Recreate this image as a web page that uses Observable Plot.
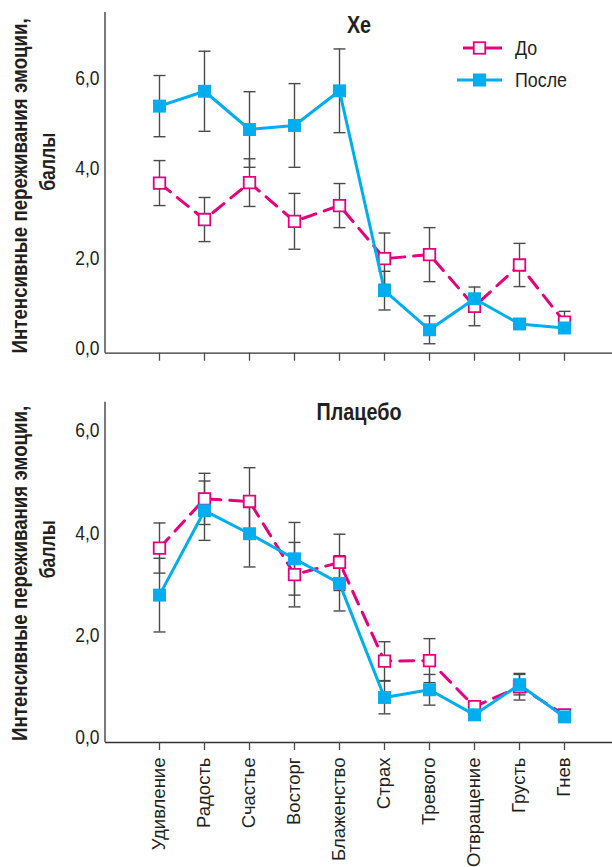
<!DOCTYPE html>
<html><head><meta charset="utf-8">
<script src="https://cdn.jsdelivr.net/npm/d3@7"></script>
<script src="https://cdn.jsdelivr.net/npm/@observablehq/plot@0.6"></script>
<style>body{margin:0;background:#fff} #chart svg{display:block}</style>
</head><body><div id="chart"></div>
<script>
const categories = ["Удивление","Радость","Счастье","Восторг","Блаженство","Страх","Тревого","Отвращение","Грусть","Гнев"];
const seriesNames = ["До", "После"];
const yTicks = [0, 2, 4, 6];
const yTitleLines = ["Интенсивные переживания эмоции,", "баллы"];
const panelTitles = ["Xe", "Плацебо"];

const xeBefore     = [3.78, 2.97, 3.79, 2.93, 3.28, 2.10, 2.19, 1.04, 1.96, 0.69];
const xeBeforeErr  = [0.50, 0.49, 0.53, 0.62, 0.49, 0.57, 0.60, 0.43, 0.48, 0.24];
const xeAfter      = [5.49, 5.82, 4.97, 5.06, 5.83, 1.39, 0.52, 1.21, 0.65, 0.56];
const xeAfterErr   = [0.68, 0.89, 0.84, 0.93, 0.93, 0.43, 0.31, 0.10, 0.08, 0.08];

const plBefore     = [3.80, 4.76, 4.71, 3.28, 3.52, 1.59, 1.60, 0.70, 1.09, 0.54];
const plBeforeErr  = [0.49, 0.50, 0.66, 0.63, 0.55, 0.38, 0.43, 0.10, 0.26, 0.05];
const plAfter      = [2.88, 4.53, 4.08, 3.59, 3.11, 0.88, 1.03, 0.54, 1.13, 0.50];
const plAfterErr   = [0.72, 0.58, 0.65, 0.71, 0.54, 0.32, 0.30, 0.08, 0.20, 0.05];

const PINK = "#e6007e", BLUE = "#00aeef", GRAY = "#4a4a4a", INK = "#231f20";
const FONT = "'Liberation Sans', Arial, sans-serif";
const fmt = d => d.toFixed(1).replace(".", ",");

function rows(vals, errs) {
  return categories.map((c, i) => ({cat: c, v: vals[i], lo: vals[i] - errs[i], hi: vals[i] + errs[i]}));
}
const capSymbol = {draw(ctx) { ctx.moveTo(-6, 0); ctx.lineTo(6, 0); }};

const yAxisLine = (index, scales, values, dims) => {
  const l = d3.create("svg:line")
    .attr("x1", dims.marginLeft).attr("x2", dims.marginLeft)
    .attr("y1", dims.marginTop).attr("y2", dims.height - dims.marginBottom)
    .attr("stroke", "#333").attr("stroke-width", 1.3);
  return l.node();
};

const legendMark = () => {
  const g = d3.create("svg:g").attr("aria-label", "legend");
  const items = [
    {name: seriesNames[0], y: 48, x1: 463, color: PINK, hollow: true},
    {name: seriesNames[1], y: 80, x1: 457, color: BLUE, hollow: false}
  ];
  for (const it of items) {
    g.append("line").attr("x1", it.x1).attr("x2", 502).attr("y1", it.y).attr("y2", it.y)
      .attr("stroke", it.color).attr("stroke-width", 3);
    if (it.hollow) {
      g.append("rect").attr("x", 479.5 - 5.75).attr("y", it.y - 5.75).attr("width", 11.5).attr("height", 11.5)
        .attr("fill", "white").attr("stroke", it.color).attr("stroke-width", 1.8);
    } else {
      g.append("rect").attr("x", 479.5 - 6.5).attr("y", it.y - 6.5).attr("width", 13).attr("height", 13)
        .attr("fill", it.color);
    }
    g.append("text").attr("x", 515).attr("y", it.y).attr("dy", "0.35em").attr("text-anchor", "start")
      .attr("font-size", 21).attr("fill", INK).text(it.name);
  }
  return g.node();
};

function panel({title, before, beforeErr, after, afterErr, height, marginTop, marginBottom, yMax, showLabels, legend, titleDy, labelDy}) {
  const b = rows(before, beforeErr), a = rows(after, afterErr);
  const caps = [...b, ...a].flatMap(d => [{cat: d.cat, y: d.lo}, {cat: d.cat, y: d.hi}]);
  const marks = [
    yAxisLine,
    Plot.ruleY([0], {stroke: "#333", strokeWidth: 1.3}),
    Plot.axisY({ticks: yTicks, tickSize: 0, tickPadding: 6, label: null, dy: -5,
      tickFormat: fmt, fontSize: 21, fill: INK}),
    Plot.axisX({tickSize: 8, stroke: GRAY, strokeWidth: 1.3, label: null, tickRotate: -90, tickPadding: 7,
      fontSize: 18.5, fill: INK, tickFormat: showLabels ? (d => d) : (() => "")}),
    Plot.ruleX([...b, ...a], {x: "cat", y1: "lo", y2: "hi", stroke: GRAY, strokeWidth: 1.4}),
    Plot.dot(caps, {x: "cat", y: "y", symbol: capSymbol, stroke: GRAY, strokeWidth: 1.4, fill: "none"}),
    Plot.line(b, {x: "cat", y: "v", stroke: PINK, strokeWidth: 3, strokeDasharray: "14,9"}),
    Plot.dot(b, {x: "cat", y: "v", symbol: "square", r: 6.5, fill: "white", stroke: PINK, strokeWidth: 1.8}),
    Plot.line(a, {x: "cat", y: "v", stroke: BLUE, strokeWidth: 3}),
    Plot.dot(a, {x: "cat", y: "v", symbol: "square", r: 7.3, fill: BLUE}),
    Plot.text([title], {frameAnchor: "top", lineAnchor: "middle", dy: titleDy, fontWeight: "bold", fontSize: 23, fill: INK}),
    Plot.text([yTitleLines[0]], {frameAnchor: "left", textAnchor: "middle", lineAnchor: "middle", rotate: -90,
      dx: -86, dy: labelDy, fontWeight: "bold", fontSize: 22, fill: INK}),
    Plot.text([yTitleLines[1]], {frameAnchor: "left", textAnchor: "middle", lineAnchor: "middle", rotate: -90,
      dx: -58, dy: labelDy - 24, fontWeight: "bold", fontSize: 22, fill: INK})
  ];
  if (legend) marks.push(legendMark);
  return Plot.plot({
    width: 612, height, marginLeft: 105, marginRight: 0, marginTop, marginBottom,
    style: {fontFamily: FONT, background: "white", overflow: "visible"},
    x: {type: "point", domain: categories, range: [155, 568], padding: 0},
    y: {domain: [0, yMax]},
    marks
  });
}

// squeeze glyphs horizontally to mimic the condensed typeface of the original
const squeeze = new Map([
  ...yTicks.map(t => [fmt(t), 0.83]),
  ...panelTitles.map(t => [t, 0.86]),
  [yTitleLines[0], 0.85],
  [yTitleLines[1], 0.8],
  ...seriesNames.map(t => [t, 0.85])
]);
function condense(svg) {
  svg.querySelectorAll("text").forEach(t => {
    if (t.querySelector("tspan")) return;
    const f = squeeze.get(t.textContent.trim());
    if (!f) return;
    const L = t.getComputedTextLength();
    if (L > 0) { t.setAttribute("textLength", (L * f).toFixed(2)); t.setAttribute("lengthAdjust", "spacingAndGlyphs"); }
  });
}

const chartEl = document.getElementById("chart");
const topPanel = panel({title: panelTitles[0], before: xeBefore, beforeErr: xeBeforeErr, after: xeAfter, afterErr: xeAfterErr,
  height: 375, marginTop: 12, marginBottom: 22.3, yMax: 7.57, showLabels: false, legend: true, titleDy: 13, labelDy: 3});
const bottomPanel = panel({title: panelTitles[1], before: plBefore, beforeErr: plBeforeErr, after: plAfter, afterErr: plAfterErr,
  height: 492, marginTop: 26.7, marginBottom: 125, yMax: 6.65, showLabels: true, legend: false, titleDy: 10.3, labelDy: 1});
chartEl.append(topPanel, bottomPanel);
condense(topPanel);
condense(bottomPanel);
</script>
</body></html>
